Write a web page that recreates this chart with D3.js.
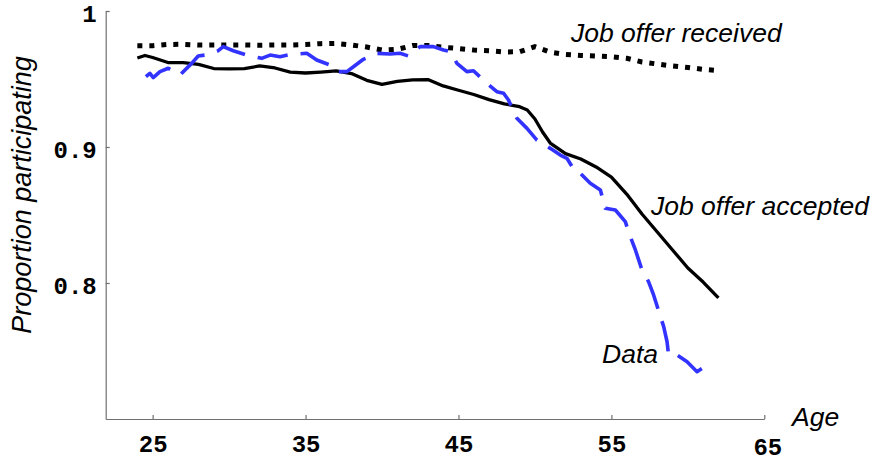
<!DOCTYPE html>
<html lang="en">
	<head>
		<meta charset="UTF-8" />
		<title>Proportion participating by age</title>
		<script src="https://d3js.org/d3.v7.min.js"></script>
		<style>
			body { margin: 0; background: #fff; }
		</style>
	</head>
	<body>
		<script>
			var w = 878;
			var h = 463;

			// job offer received (dotted)
			var receivedAge = [24, 25, 26, 27, 28, 29, 30, 31, 32, 33, 34, 35, 36, 37, 38, 39, 40, 41, 42, 43, 44, 45, 46, 47, 48, 49, 50, 51, 52, 53, 54, 55, 56, 57, 58, 59, 60, 61, 62];
			var receivedVal = [0.9745, 0.9745, 0.9754, 0.9755, 0.975, 0.975, 0.975, 0.975, 0.9748, 0.975, 0.975, 0.9754, 0.976, 0.9762, 0.975, 0.9735, 0.9713, 0.9718, 0.9746, 0.9746, 0.9733, 0.9724, 0.9713, 0.9708, 0.9699, 0.97, 0.9738, 0.9697, 0.968, 0.9673, 0.9669, 0.9664, 0.9652, 0.9625, 0.961, 0.9596, 0.9585, 0.9571, 0.9562];

			// job offer accepted (solid)
			var acceptedAge = [24, 24.5, 25, 26, 27, 28, 29, 30, 31, 32, 33, 34, 35, 36, 37, 38, 39, 40, 41, 42, 43, 44, 45, 46, 47, 48, 49, 49.5, 50, 50.5, 51, 52, 53, 54, 55, 56, 57, 58, 59, 60, 61, 62];
			var acceptedVal = [0.9654, 0.9673, 0.9658, 0.9621, 0.9621, 0.9607, 0.9577, 0.9574, 0.9577, 0.9596, 0.9581, 0.9551, 0.9544, 0.9551, 0.9559, 0.954, 0.949, 0.946, 0.9482, 0.9493, 0.9496, 0.9449, 0.9417, 0.9386, 0.9348, 0.9317, 0.9296, 0.9272, 0.9206, 0.911, 0.9029, 0.8951, 0.8912, 0.8853, 0.8779, 0.8654, 0.8507, 0.8375, 0.8243, 0.811, 0.8007, 0.789];

			// data (dashed blue)
			var dataAge = [24.56, 24.82, 25.04, 25.48, 26.02, 26.79, 27.55, 27.98, 28.42, 29.29, 29.62, 30.27, 31.15, 32.13, 32.68, 33.33, 34.1, 35.08, 35.73, 36.6, 37.04, 37.7, 38.13, 38.78, 39.66, 40.53, 41.18, 41.73, 42.49, 43.36, 44.02, 44.46, 44.9, 45.55, 45.98, 46.86, 47.51, 47.95, 48.27, 48.82, 49.48, 50.13, 51.0, 51.66, 52.09, 52.64, 52.96, 53.62, 54.28, 54.6, 55.26, 55.91, 56.24, 56.57, 57.0, 57.43, 57.76, 58.42, 58.64, 58.74, 59.29, 59.95, 60.6, 61.15];
			var dataVal = [0.9517, 0.9542, 0.951, 0.9554, 0.9579, 0.9529, 0.9615, 0.9669, 0.9676, 0.9708, 0.9738, 0.9708, 0.9676, 0.9652, 0.9676, 0.9664, 0.9682, 0.9689, 0.964, 0.9603, 0.9554, 0.9554, 0.959, 0.9645, 0.9689, 0.9684, 0.9689, 0.9669, 0.9738, 0.9738, 0.9713, 0.9701, 0.9615, 0.9554, 0.9561, 0.9468, 0.9407, 0.9395, 0.9346, 0.9211, 0.9137, 0.9051, 0.899, 0.8941, 0.8917, 0.8818, 0.8807, 0.8733, 0.8684, 0.8549, 0.8537, 0.8451, 0.834, 0.8243, 0.8096, 0.801, 0.7912, 0.7679, 0.7568, 0.7471, 0.7471, 0.7421, 0.7348, 0.739];

			var xTicks = [25, 35, 45, 55, 65];
			var yTicks = [0.8, 0.9, 1];

			var xScale = d3.scaleLinear().domain([21.93, 65]).range([105.7, 764.3]);
			var yScale = d3.scaleLinear().domain([0.7, 1]).range([419, 11]);

			var svg = d3
				.select("body")
				.append("svg")
				.attr("width", w)
				.attr("height", h);

			var italicFont = "'Liberation Sans', Arial, sans-serif";
			var tickFont = "'Liberation Mono', 'Courier New', monospace";

			// axes
			var xAxis = svg
				.append("g")
				.attr("transform", "translate(0,419)")
				.call(d3.axisBottom(xScale).tickValues(xTicks).tickSizeInner(-4).tickSizeOuter(0));
			var yAxis = svg
				.append("g")
				.attr("transform", "translate(105.7,0)")
				.call(
					d3.axisLeft(yScale).tickValues(yTicks).tickSizeInner(-4).tickSizeOuter(0).tickPadding(9)
						.tickFormat(function (d) {
							return d === 1 ? "1" : d.toFixed(1);
						})
				);

			svg.selectAll(".domain, .tick line").attr("stroke", "#707070").attr("stroke-width", 1.2);
			svg.selectAll(".tick text")
				.attr("font-family", tickFont)
				.attr("font-weight", "bold")
				.attr("font-size", "24px")
				.attr("fill", "#000");

			xAxis.selectAll(".tick text")
				.attr("y", function (d) {
					return d === 65 ? 36 : 33;
				})
				.attr("dx", function (d) {
					return d === 65 ? 3 : 0;
				})
				.attr("dy", 0);
			yAxis.selectAll(".tick text").attr("dy", "0.42em");

			// lines
			function lineFor(ages) {
				return d3
					.line()
					.x(function (d, i) {
						return xScale(ages[i]);
					})
					.y(function (d) {
						return yScale(d);
					});
			}

			svg.append("path")
				.attr("d", lineFor(receivedAge)(receivedVal))
				.attr("fill", "none")
				.attr("stroke", "#000")
				.attr("stroke-width", 5)
				.attr("stroke-dasharray", "5,7");

			svg.append("path")
				.attr("d", lineFor(acceptedAge)(acceptedVal))
				.attr("fill", "none")
				.attr("stroke", "#000")
				.attr("stroke-width", 3.3)
				.attr("stroke-linejoin", "round");

			svg.append("path")
				.attr("d", lineFor(dataAge)(dataVal))
				.attr("fill", "none")
				.attr("stroke", "#3333ff")
				.attr("stroke-width", 3.6)
				.attr("stroke-linejoin", "round")
				.attr("stroke-dasharray", "31,13");

			// labels
			function label(x, y, txt) {
				return svg
					.append("text")
					.attr("x", x)
					.attr("y", y)
					.attr("font-family", italicFont)
					.attr("font-style", "italic")
					.attr("font-size", "26.5px")
					.attr("fill", "#000")
					.text(txt);
			}

			label(571, 41.5, "Job offer received");
			label(651, 215, "Job offer accepted");
			label(602, 363, "Data");
			label(792, 425.5, "Age");

			svg.append("text")
				.attr("transform", "translate(31,195) rotate(-90)")
				.attr("text-anchor", "middle")
				.attr("font-family", italicFont)
				.attr("font-style", "italic")
				.attr("font-size", "27px")
				.attr("fill", "#000")
				.text("Proportion participating");
		</script>
	</body>
</html>
